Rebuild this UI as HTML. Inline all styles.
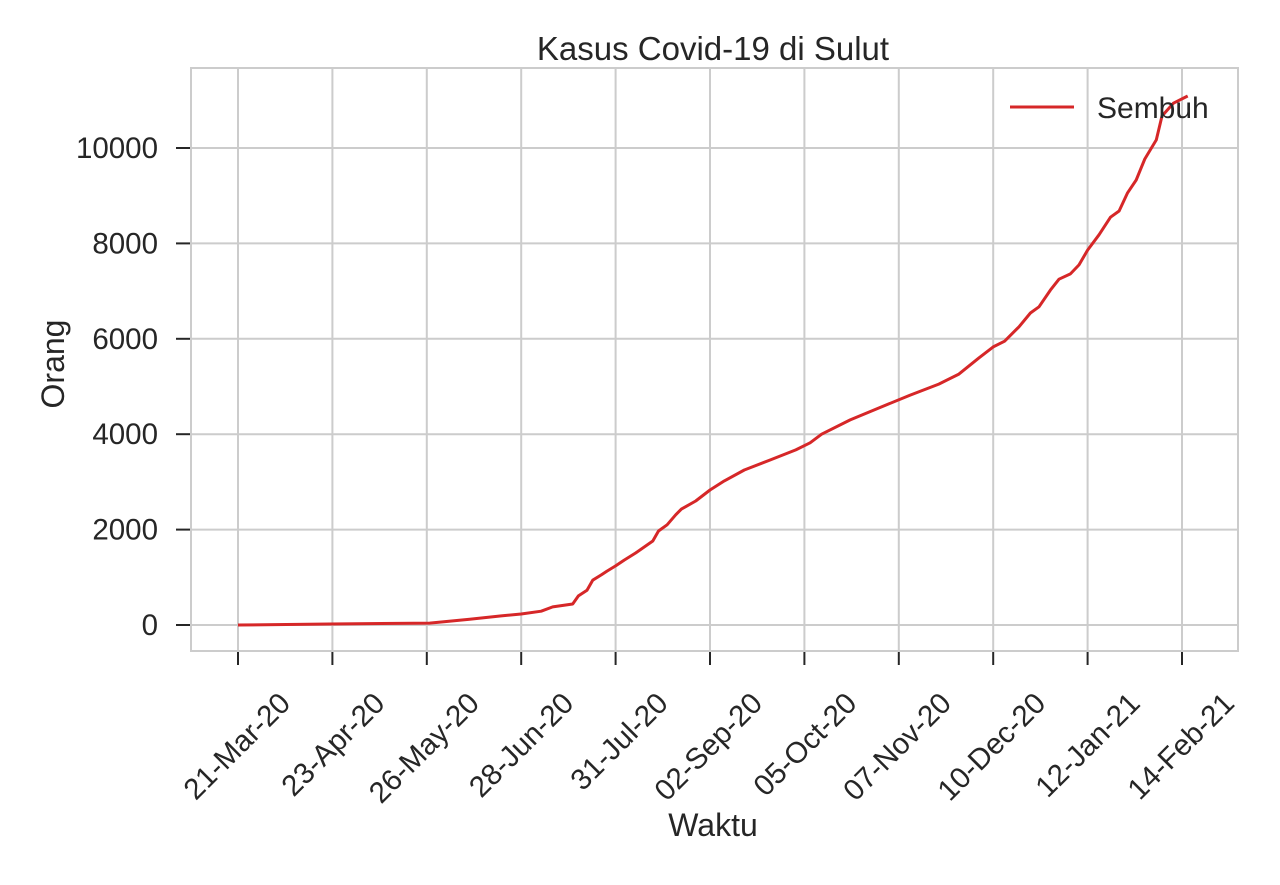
<!DOCTYPE html>
<html><head><meta charset="utf-8"><style>
body{margin:0;background:#fff}
svg text{font-family:"Liberation Sans",Arial,sans-serif;fill:#262626}
</style></head><body>
<svg id="chart" width="1280" height="880">
<g id="grid"></g><g id="ticks"></g>
<rect x="191" y="68" width="1047" height="583" fill="none" stroke="#cccccc" stroke-width="2"/>
<text x="713" y="60" font-size="33" text-anchor="middle">Kasus Covid-19 di Sulut</text>
<text x="713" y="836" font-size="32" text-anchor="middle">Waktu</text>
<text transform="translate(64,364) rotate(-90)" font-size="32" text-anchor="middle">Orang</text>
<path id="line" fill="none" stroke="#d62728" stroke-width="3" stroke-linejoin="round"/>
<g>
<line x1="1010" y1="107" x2="1074" y2="107" stroke="#d62728" stroke-width="3"/>
<text x="1097" y="118" font-size="30">Sembuh</text>
</g>
</svg>
<script>
const days=[0,32,67,81,92,99,106,110,117,119,122,124,127,129,132,135,139,145,147,150,153,155,160,165,170,177,186,195,200,204,214,224,235,245,252,259,264,268,273,277,280,284,287,291,294,297,301,305,308,311,314,317,321,323,327,332];
const sembuh=[0,20,40,120,190,230,290,380,440,610,730,940,1050,1130,1240,1360,1510,1760,1970,2100,2310,2430,2600,2830,3020,3250,3460,3670,3820,4000,4300,4550,4820,5050,5260,5600,5830,5950,6250,6540,6670,7020,7250,7360,7550,7860,8180,8550,8680,9060,9330,9770,10170,10670,10940,11090];
const xTickLabels=["21-Mar-20","23-Apr-20","26-May-20","28-Jun-20","31-Jul-20","02-Sep-20","05-Oct-20","07-Nov-20","10-Dec-20","12-Jan-21","14-Feb-21"];
const yTicks=[0,2000,4000,6000,8000,10000];
const xs=d=>238+d*944/330;
const ys=v=>625-v*0.0477;
const NS="http://www.w3.org/2000/svg";
const grid=document.getElementById('grid'),ticks=document.getElementById('ticks');
function mk(tag,attrs,parent){const e=document.createElementNS(NS,tag);for(const k in attrs)e.setAttribute(k,attrs[k]);parent.appendChild(e);return e;}
xTickLabels.forEach((lab,i)=>{
  const x=xs(i*33);
  const g=mk('line',{x1:x,x2:x,y1:68,y2:651,stroke:'#cccccc','stroke-width':2},grid);
  
  
  const t=mk('line',{x1:x,x2:x,y1:651,y2:665,stroke:'#262626','stroke-width':2},ticks);
  
  
  const tx=mk('text',{transform:`translate(${x+54},${705}) rotate(-45)`,'font-size':29.5,'text-anchor':'end'},ticks);
  tx.textContent=lab;
  
  
});
yTicks.forEach(v=>{
  const y=ys(v);
  const g=mk('line',{x1:191,x2:1238,y1:y,y2:y,stroke:'#cccccc','stroke-width':2},grid);
  
  
  const t=mk('line',{x1:176,x2:191,y1:y,y2:y,stroke:'#262626','stroke-width':2},ticks);
  
  
  const tx=mk('text',{x:158,y:y+10,'font-size':29.5,'text-anchor':'end'},ticks);
  tx.textContent=v;
  
  
});
document.getElementById('line').setAttribute('d',days.map((d,i)=>(i?'L':'M')+xs(d).toFixed(1)+','+ys(sembuh[i]).toFixed(1)).join(''));
</script>
</body></html>
